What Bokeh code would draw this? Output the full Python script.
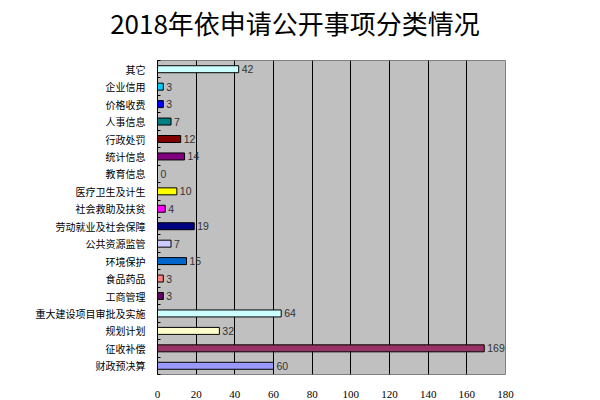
from bokeh.plotting import figure
from bokeh.models import ColumnDataSource, FixedTicker, Range1d, Div
from bokeh.layouts import column
from bokeh.core.properties import value
from bokeh.embed import file_html
from bokeh.resources import INLINE

title_text = "2018年依申请公开事项分类情况"
categories = ["其它", "企业信用", "价格收费", "人事信息", "行政处罚", "统计信息", "教育信息",
              "医疗卫生及计生", "社会救助及扶贫", "劳动就业及社会保障", "公共资源监管", "环境保护",
              "食品药品", "工商管理", "重大建设项目审批及实施", "规划计划", "征收补偿", "财政预决算"]
counts = [42, 3, 3, 7, 12, 14, 0, 10, 4, 19, 7, 15, 3, 3, 64, 32, 169, 60]
colors = ["#CCFFFF", "#00CCFF", "#0000FF", "#008080", "#800000", "#800080", "#C0C0C0",
          "#FFFF00", "#FF00FF", "#000080", "#CCCCFF", "#0066CC", "#FF8080", "#660066",
          "#CCFFFF", "#FFFFCC", "#993366", "#9999FF"]
x_ticks = [0, 20, 40, 60, 80, 100, 120, 140, 160, 180]

n = len(categories)
ypos = [n - 1 - i + 0.5 for i in range(n)]
src = ColumnDataSource(dict(y=ypos, v=counts, c=colors, lab=[str(v) for v in counts]))

title_div = Div(text=title_text, width=600, height=59,
                styles={"font-family": "'Noto Sans CJK SC'", "font-size": "26px",
                        "line-height": "30px", "text-align": "center", "color": "black",
                        "padding-top": "8px", "padding-right": "10px", "box-sizing": "border-box",
                        "width": "600px", "margin": "0"})

p = figure(width=600, height=341, output_backend="svg", toolbar_location=None,
           x_range=Range1d(0, 180), y_range=Range1d(0, n),
           min_border_left=157, min_border_right=95, min_border_top=1, min_border_bottom=21)
p.background_fill_color = "#C0C0C0"
p.border_fill_color = "white"
p.outline_line_color = "#808080"

p.hbar(y="y", right="v", left=0, height=0.4, fill_color="c", line_color="black",
       line_width=1, source=src)
p.text(x="v", y="y", text="lab", x_offset=3, text_baseline="middle", text_align="left",
       text_font=value("Liberation Sans"), text_font_size="10.5px", text_color="#333333", source=src)

p.xaxis.ticker = FixedTicker(ticks=x_ticks)
p.xaxis.axis_line_color = None
p.xaxis.major_tick_line_color = None
p.xaxis.minor_tick_line_color = None
p.xaxis.major_label_standoff = 10
p.xaxis.major_label_text_font = "Liberation Serif"
p.xaxis.major_label_text_font_size = "11px"
p.xaxis.major_label_text_color = "black"

p.yaxis.ticker = FixedTicker(ticks=ypos, minor_ticks=list(range(n + 1)))
p.yaxis.major_label_overrides = {y: c for y, c in zip(ypos, categories)}
p.yaxis.major_tick_line_color = None
p.yaxis.minor_tick_in = 3
p.yaxis.minor_tick_out = 0
p.yaxis.minor_tick_line_color = "black"
p.yaxis.axis_line_color = "black"
p.yaxis.major_label_standoff = 6
p.yaxis.major_label_text_font = "Noto Sans CJK SC"
p.yaxis.major_label_text_font_size = "10px"
p.yaxis.major_label_text_color = "black"

p.xgrid.ticker = FixedTicker(ticks=x_ticks)
p.xgrid.grid_line_color = "black"
p.xgrid.grid_line_width = 1
p.ygrid.grid_line_color = None

layout = column(title_div, p, spacing=0)
open("out.html", "w").write(file_html(layout, INLINE))
